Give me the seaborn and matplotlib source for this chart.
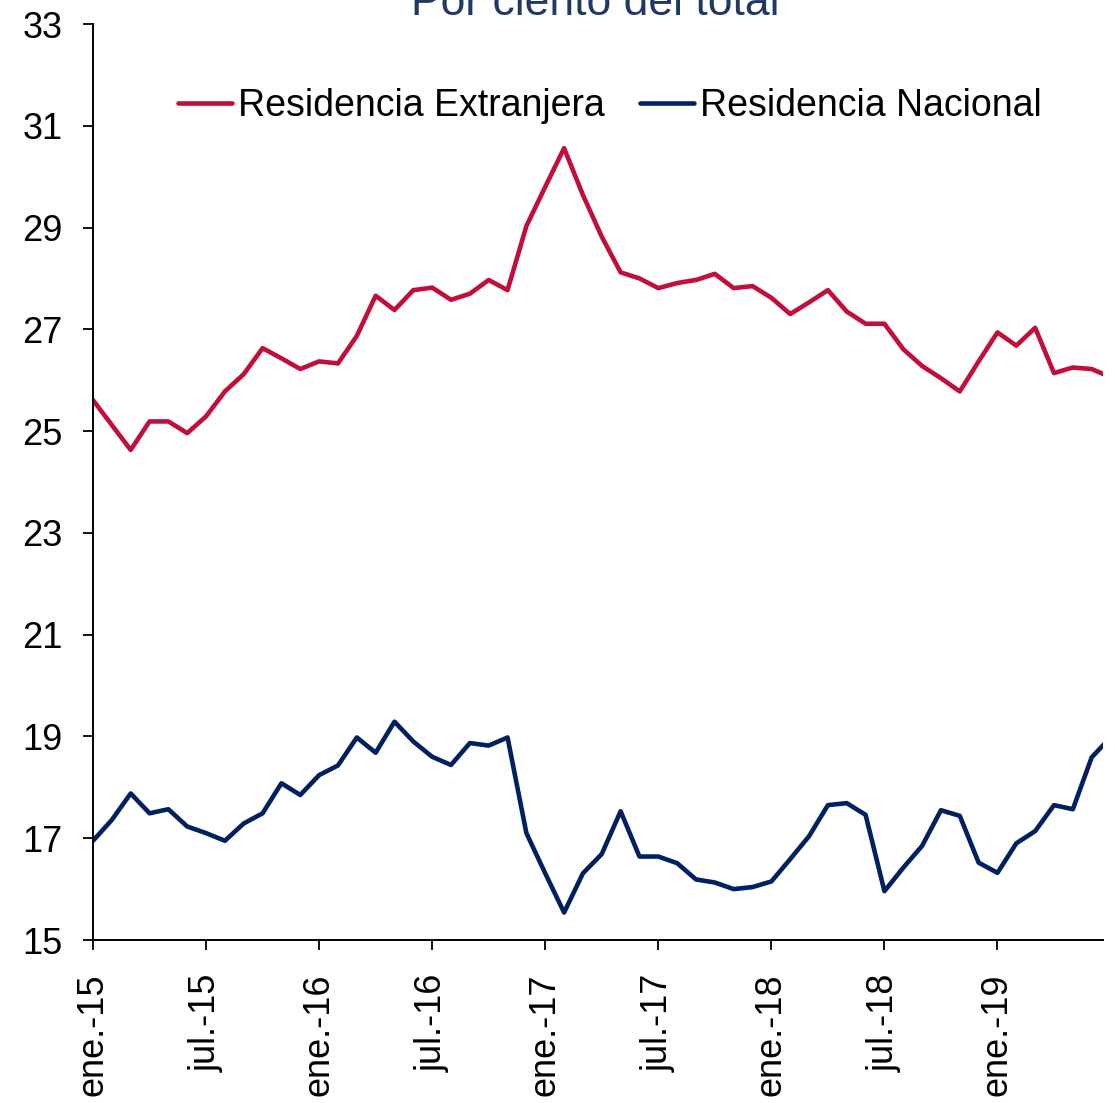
import numpy as np
import pandas as pd
import matplotlib
matplotlib.use("Agg")
import matplotlib.pyplot as plt
import seaborn as sns
from matplotlib.lines import Line2D

# ---- data (monthly, ene.-15 onwards) ----
months = list(range(55))
extranjera = [25.61, 25.12, 24.63, 25.19, 25.19, 24.96, 25.29, 25.78, 26.12, 26.63,
              26.43, 26.22, 26.37, 26.33, 26.87, 27.66, 27.38, 27.77, 27.82, 27.58,
              27.70, 27.97, 27.77, 29.03, 29.80, 30.56, 29.64, 28.82, 28.12, 28.00,
              27.81, 27.91, 27.97, 28.09, 27.81, 27.85, 27.62, 27.30, 27.53, 27.77,
              27.35, 27.11, 27.11, 26.61, 26.28, 26.04, 25.78, 26.37, 26.94, 26.68,
              27.03, 26.14, 26.25, 26.22, 26.06]
nacional = [16.95, 17.36, 17.88, 17.49, 17.57, 17.23, 17.10, 16.95, 17.29, 17.49,
            18.08, 17.85, 18.24, 18.43, 18.98, 18.68, 19.29, 18.90, 18.60, 18.44,
            18.87, 18.82, 18.98, 17.10, 16.31, 15.54, 16.31, 16.69, 17.53, 16.64,
            16.64, 16.51, 16.19, 16.13, 16.00, 16.04, 16.15, 16.59, 17.04, 17.65,
            17.69, 17.46, 15.96, 16.42, 16.85, 17.55, 17.44, 16.52, 16.32, 16.90,
            17.14, 17.65, 17.57, 18.59, 18.98]
series_names = ["Residencia Extranjera", "Residencia Nacional"]
tick_positions = [0, 6, 12, 18, 24, 30, 36, 42, 48]
tick_labels = ["ene.-15", "jul.-15", "ene.-16", "jul.-16", "ene.-17",
               "jul.-17", "ene.-18", "jul.-18", "ene.-19"]
y_ticks = [15, 17, 19, 21, 23, 25, 27, 29, 31, 33]
title = "Por ciento del total"

df = pd.DataFrame({
    "mes": months * 2,
    "valor": extranjera + nacional,
    "serie": [series_names[0]] * len(months) + [series_names[1]] * len(months),
})

sns.set_style("ticks")
plt.rcParams["font.family"] = ["Liberation Sans", "DejaVu Sans"]
plt.rcParams["text.color"] = "black"

W, H = 1115, 1103
fig = plt.figure(figsize=(W / 100, H / 100), dpi=100)
ax = fig.add_axes([93 / W, (H - 940) / H, (1103 - 93) / W, (940 - 24) / H])

palette = {series_names[0]: "#C20E3A", series_names[1]: "#002060"}
LW = 3.3
sns.lineplot(data=df, x="mes", y="valor", hue="serie", palette=palette,
             linewidth=LW, ax=ax, legend=False)

ax.set_xlim(0, 53.6)
ax.set_ylim(15, 33)
ax.set_yticks(y_ticks)
ax.set_yticklabels([str(v) for v in y_ticks], fontsize=26)
ax.set_xticks(tick_positions)
ax.set_xticklabels(tick_labels, rotation=90, fontsize=26, ha="center", va="top")
ax.set_xlabel("")
ax.set_ylabel("")
ax.tick_params(axis="y", length=7, width=1.3, pad=15, colors="black")
ax.tick_params(axis="x", length=7, width=1.3, pad=17, colors="black")
for s in ["top", "right"]:
    ax.spines[s].set_visible(False)
for s in ["left", "bottom"]:
    ax.spines[s].set_linewidth(1.4)
    ax.spines[s].set_color("black")

handles = [Line2D([0], [0], color=palette[n], lw=LW) for n in series_names]
leg = fig.legend(handles, series_names, loc="center left",
                 bbox_to_anchor=(178 / W, 1 - 106 / H), bbox_transform=fig.transFigure,
                 ncol=2, frameon=False, fontsize=27, handlelength=1.45,
                 handletextpad=0.14, columnspacing=0.95, borderpad=0, borderaxespad=0)
for t in leg.get_texts():
    t.set_color("black")

fig.text(595 / W, 1 - 15 / H, title, ha="center", va="baseline",
         fontsize=32, color="#1F3864")

fig.savefig("out.png", dpi=100)
